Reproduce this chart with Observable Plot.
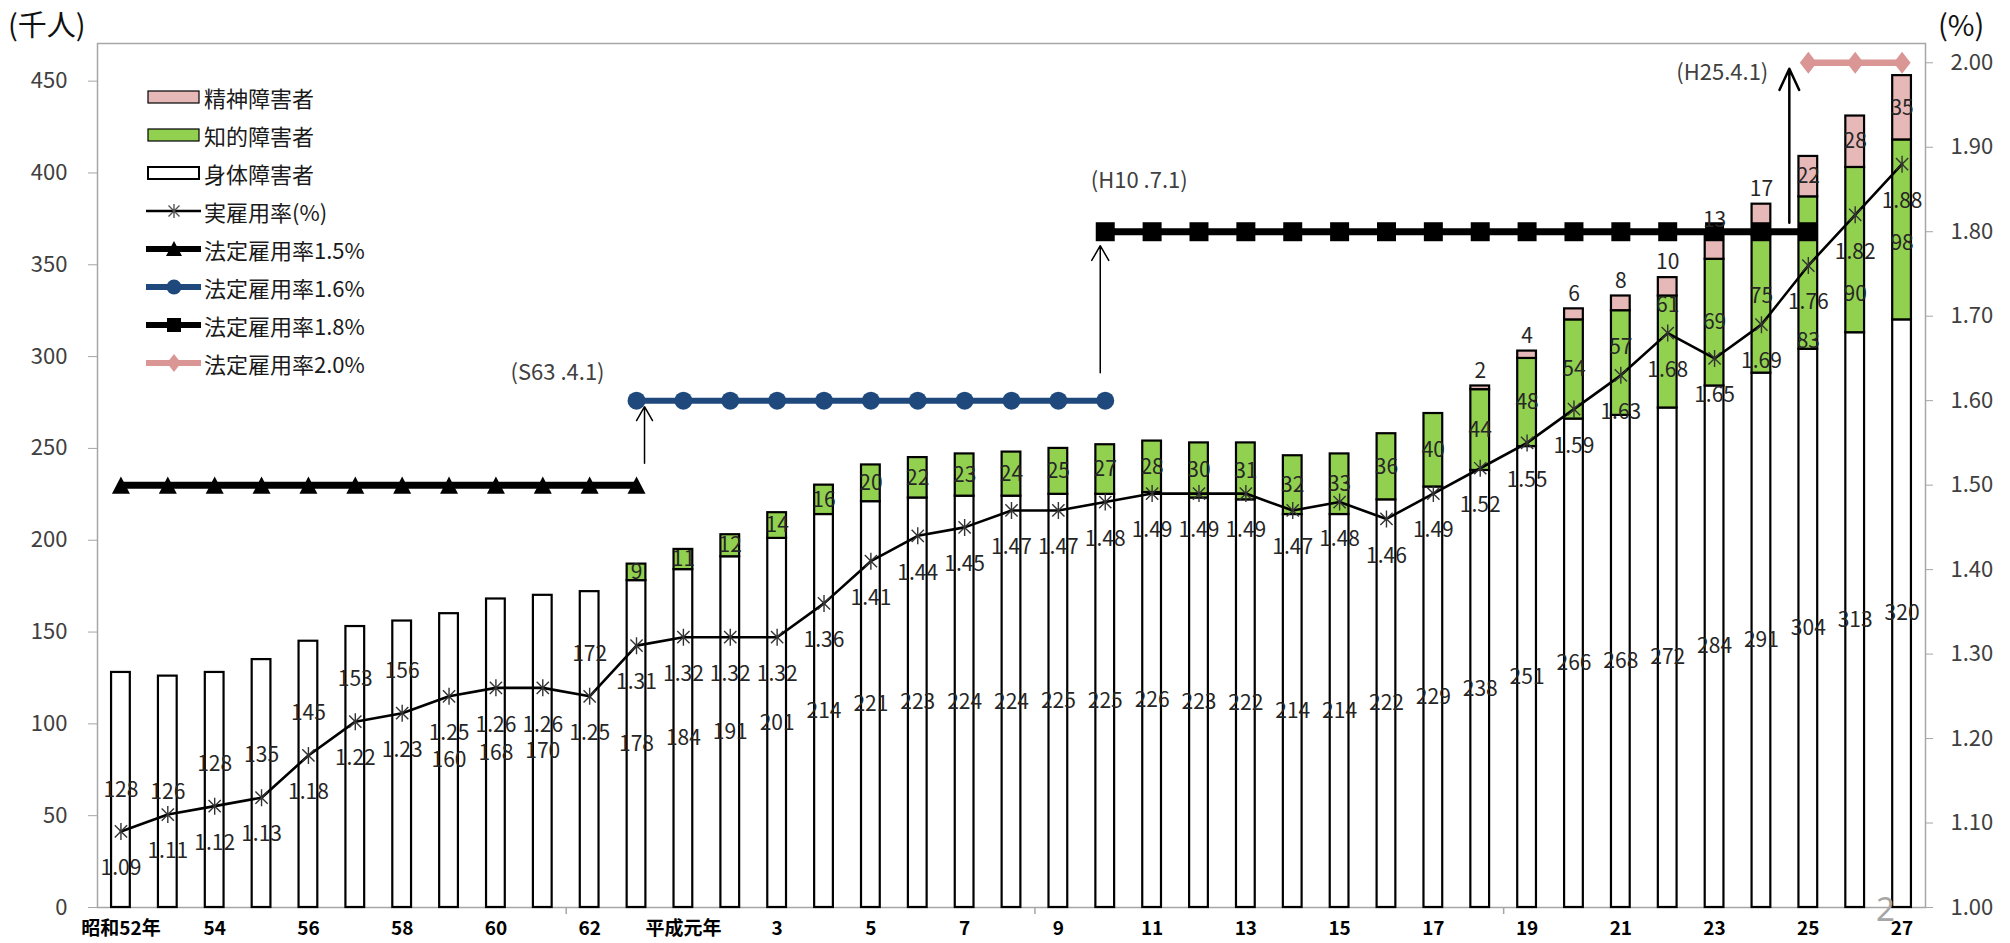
<!DOCTYPE html>
<html lang="ja">
<head>
<meta charset="utf-8">
<script src="https://cdn.jsdelivr.net/npm/d3@7"></script>
<script src="https://cdn.jsdelivr.net/npm/@observablehq/plot@0.6"></script>
<style>
html,body{margin:0;padding:0;background:#fff;}
#wrap{position:relative;width:2010px;height:943px;overflow:hidden;font-family:"Noto Sans CJK JP","Noto Sans",sans-serif;}
#wrap > svg{position:absolute;left:0;top:0;}
.unit{position:absolute;top:6px;font-size:29px;color:#111;line-height:1.2;}
#legend{position:absolute;left:144px;top:78px;}
.li{display:flex;align-items:center;height:38px;}
.li svg{display:block;}
.li span{font-size:22px;color:#1a1a1a;margin-left:2px;line-height:1;}
#page{position:absolute;left:1876px;top:892px;font-size:33px;color:#a6a6a6;font-family:"Noto Sans",sans-serif;line-height:1;}
</style>
</head>
<body>
<div id="wrap"></div>
<script>
// ---------------- data ----------------
const categories = ["昭和52年","53","54","55","56","57","58","59","60","61","62","63",
  "平成元年","2","3","4","5","6","7","8","9","10","11","12","13","14","15","16","17","18","19","20","21","22","23","24","25","26","27"];
const xTickLabels = categories.filter((d, i) => i % 2 === 0);

const physical = [128,126,128,135,145,153,156,160,168,170,172,178,184,191,201,214,221,223,224,224,225,225,226,223,222,214,214,222,229,238,251,266,268,272,284,291,304,313,320];
const intellectual = [null,null,null,null,null,null,null,null,null,null,null,
  9,11,12,14,16,20,22,23,24,25,27,28,30,31,32,33,36,40,44,48,54,57,61,69,75,83,90,98];
const mental = [null,null,null,null,null,null,null,null,null,null,null,null,null,null,null,
  null,null,null,null,null,null,null,null,null,null,null,null,null,null,
  2,4,6,8,10,13,17,22,28,35];
const actualRate = [1.09,1.11,1.12,1.13,1.18,1.22,1.23,1.25,1.26,1.26,1.25,1.31,1.32,1.32,1.32,1.36,1.41,1.44,1.45,1.47,1.47,1.48,1.49,1.49,1.49,1.47,1.48,1.46,1.49,1.52,1.55,1.59,1.63,1.68,1.65,1.69,1.76,1.82,1.88];

const legalRates = [1.5, 1.6, 1.8, 2.0];
const legalStart = ["昭和52年", "63", "10", "25"];
const legalEnd = ["63", "10", "25", "27"];
const legalNames = ["法定雇用率1.5%", "法定雇用率1.6%", "法定雇用率1.8%", "法定雇用率2.0%"];
const revisionLabels = ["(S63 .4.1)", "(H10 .7.1)", "(H25.4.1)"];

const kinds = ["身体障害者", "知的障害者", "精神障害者"];
const rateName = "実雇用率(%)";
const leftTicks = [0, 50, 100, 150, 200, 250, 300, 350, 400, 450];
const rightTicks = [1.0, 1.1, 1.2, 1.3, 1.4, 1.5, 1.6, 1.7, 1.8, 1.9, 2.0];

// right axis (%) mapped onto the left axis (千人): 1.00% -> 0, 2.00% -> 460
const RATE_BASE = 1.0, RATE_FACTOR = 460;
const toLeft = v => (v - RATE_BASE) * RATE_FACTOR;
const Y_MAX = 470.5;

// ---------------- layout constants ----------------
const W = 2010, H = 943, ML = 97, MR = 85, MT = 43, MB = 36;
const step = (W - ML - MR) / categories.length;
const pxPerUnit = (H - MT - MB) / Y_MAX;
const RATE_LABEL_DY = 37;           // rate label sits below its marker (px)

// ---------------- tables ----------------
const barRows = [];
const physLabels = [], intelLabels = [], mentalIn = [], mentalAbove = [];
categories.forEach((c, i) => {
  const p = physical[i], n = intellectual[i], m = mental[i];
  const mk = toLeft(actualRate[i]);                    // marker, in 千人 units
  const mkLabel = mk - RATE_LABEL_DY / pxPerUnit;      // rate label centre
  barRows.push({cat: c, kind: kinds[0], value: p});
  // body label: centred, moved above the rate marker if it would collide with it
  let yb = p / 2;
  const dPx = (mk - yb) * pxPerUnit;                   // >0: label below marker
  if (dPx > -22 && dPx < 58) yb = mk + 42 / pxPerUnit;
  physLabels.push({cat: c, y: yb, text: String(p)});
  if (n != null) {
    barRows.push({cat: c, kind: kinds[1], value: n});
    let yi = p + n / 2;
    const lp = (mk - yi) * pxPerUnit;
    if (n >= 40 && lp > -22 && lp < RATE_LABEL_DY + 30) {
      const below = mkLabel - 42 / pxPerUnit, above = mk + 28 / pxPerUnit;
      yi = (below >= p) ? Math.max(below, p + 8 / pxPerUnit) : above;
    }
    intelLabels.push({cat: c, y: yi, text: String(n)});
  }
  if (m != null) {
    barRows.push({cat: c, kind: kinds[2], value: m});
    const top = p + (n || 0) + m;
    if (m >= 20) mentalIn.push({cat: c, y: top - m / 2, text: String(m)});
    else mentalAbove.push({cat: c, y: top, text: String(m)});
  }
});
const rateRows = categories.map((c, i) => ({cat: c, rate: actualRate[i], y: toLeft(actualRate[i])}));
const legalSeries = legalRates.map((r, k) => {
  const a = categories.indexOf(legalStart[k]), b = categories.indexOf(legalEnd[k]);
  return categories.slice(a, b + 1).map(c => ({cat: c, y: toLeft(r)}));
});
const revisions = revisionLabels.map((t, k) => ({
  text: t, cat: legalStart[k + 1], from: toLeft(legalRates[k]), to: toLeft(legalRates[k + 1])
}));
const boundaryCats = [categories[10], categories[20], categories[30]];

// ---------------- symbols & styles ----------------
const starSym = {draw(ctx, size) {
  const r = Math.sqrt(size / Math.PI), d = r * 0.72;
  ctx.moveTo(0, -r); ctx.lineTo(0, r);
  ctx.moveTo(-d, -d); ctx.lineTo(d, d);
  ctx.moveTo(-d, d); ctx.lineTo(d, -d);
}};
const triSym = {draw(ctx, size) {
  const r = Math.sqrt(size / Math.PI);
  ctx.moveTo(0, -r * 0.95); ctx.lineTo(r, r * 0.95); ctx.lineTo(-r, r * 0.95); ctx.closePath();
}};
const sqSym = {draw(ctx, size) {
  const r = Math.sqrt(size / Math.PI);
  ctx.rect(-r, -r, 2 * r, 2 * r);
}};
const diaSym = {draw(ctx, size) {
  const r = Math.sqrt(size / Math.PI);
  ctx.moveTo(0, -r * 1.1); ctx.lineTo(r * 0.85, 0); ctx.lineTo(0, r * 1.1); ctx.lineTo(-r * 0.85, 0); ctx.closePath();
}};
const legalStyle = [
  {color: "#000000", width: 7, symbol: triSym, r: 9},
  {color: "#1F497D", width: 6, symbol: "circle", r: 9},
  {color: "#000000", width: 7, symbol: sqSym, r: 9.5},
  {color: "#D99694", width: 6.5, symbol: diaSym, r: 10}
];
const kindColors = ["#FFFFFF", "#92D050", "#E6B9B8"];
const labelFill = "#262626";
const FONT = "'Noto Sans CJK JP','Noto Sans',sans-serif";

const chart = Plot.plot({
  width: W, height: H,
  marginLeft: ML, marginRight: MR, marginTop: MT, marginBottom: MB,
  style: {fontFamily: FONT, background: "transparent", overflow: "visible"},
  x: {type: "band", domain: categories, paddingInner: 0.6, paddingOuter: 0.3, align: 0.5, axis: null},
  y: {domain: [0, Y_MAX], axis: null},
  color: {domain: kinds, range: kindColors},
  marks: [
    Plot.frame({stroke: "#a6a6a6", strokeWidth: 1.5}),
    Plot.axisY(leftTicks, {anchor: "left", tickSize: 9, tickPadding: 21, fontSize: 22, fill: "#404040", stroke: "#a6a6a6", label: null}),
    Plot.axisY(rightTicks.map(toLeft), {anchor: "right", tickSize: 7, tickPadding: 18, fontSize: 22, fill: "#404040", stroke: "#a6a6a6", label: null,
      tickFormat: d => (d / RATE_FACTOR + RATE_BASE).toFixed(2)}),
    Plot.axisX(xTickLabels, {anchor: "bottom", tickSize: 0, tickPadding: 14, fontSize: 19, fontWeight: "bold", fill: "#000", label: null}),
    Plot.ruleX(boundaryCats, {x: d => d, y1: 0, y2: -7 / pxPerUnit, dx: -step / 2, stroke: "#a6a6a6", strokeWidth: 1.5}),
    Plot.barY(barRows, {x: "cat", y: "value", fill: "kind", stroke: "#000", strokeWidth: 2.2}),
    ...legalSeries.flatMap((rows, k) => [
      Plot.line(rows, {x: "cat", y: "y", stroke: legalStyle[k].color, strokeWidth: legalStyle[k].width}),
      Plot.dot(rows, {x: "cat", y: "y", symbol: legalStyle[k].symbol, r: legalStyle[k].r, fill: legalStyle[k].color, stroke: "none"})
    ]),
    Plot.line(rateRows, {x: "cat", y: "y", stroke: "#000", strokeWidth: 2.6}),
    Plot.dot(rateRows, {x: "cat", y: "y", symbol: starSym, r: 8.5, stroke: "#333", strokeWidth: 1.4, fill: "none"}),
    // revision arrows
    Plot.arrow([revisions[0]], {x1: "cat", x2: "cat", y1: "from", y2: "to", insetStart: 22, insetEnd: 6, dx: 8,
      stroke: "#000", strokeWidth: 1.5, headLength: 16, headAngle: 60}),
    Plot.arrow([revisions[1]], {x1: "cat", x2: "cat", y1: "from", y2: "to", insetStart: 28, insetEnd: 14, dx: -5,
      stroke: "#000", strokeWidth: 1.5, headLength: 17, headAngle: 60}),
    Plot.arrow([revisions[2]], {x1: "cat", x2: "cat", y1: "from", y2: "to", insetStart: 9, insetEnd: 6, dx: -19,
      stroke: "#000", strokeWidth: 2.5, headLength: 14, headAngle: 50}),
    Plot.text([revisions[0]], {x: "cat", y: "to", text: "text", dx: -79, dy: -28, fontSize: 22, fill: "#404040"}),
    Plot.text([revisions[1]], {x: "cat", y: "to", text: "text", dx: 34, dy: -51, fontSize: 22, fill: "#404040"}),
    Plot.text([revisions[2]], {x: "cat", y: "to", text: "text", dx: -86, dy: 10, fontSize: 22, fill: "#404040"}),
    // data labels
    Plot.text(physLabels, {x: "cat", y: "y", text: "text", fontSize: 21, fill: labelFill}),
    Plot.text(intelLabels, {x: "cat", y: "y", text: "text", fontSize: 21, fill: labelFill}),
    Plot.text(mentalIn, {x: "cat", y: "y", text: "text", fontSize: 21, fill: labelFill}),
    Plot.text(mentalAbove, {x: "cat", y: "y", text: "text", dy: -15, fontSize: 21, fill: labelFill}),
    Plot.text(rateRows, {x: "cat", y: "y", text: d => d.rate.toFixed(2), dy: RATE_LABEL_DY, fontSize: 21, fill: labelFill})
  ]
});

const wrap = document.getElementById("wrap");
wrap.appendChild(chart);

// units
const u1 = document.createElement("div"); u1.className = "unit"; u1.style.left = "8px"; u1.textContent = "(千人)"; wrap.appendChild(u1);
const u2 = document.createElement("div"); u2.className = "unit"; u2.style.left = "1938px"; u2.textContent = "(%)"; wrap.appendChild(u2);

// legend
function rectIcon(fill, sw) {
  return `<svg width="58" height="24"><rect x="4" y="6" width="51" height="12" fill="${fill}" stroke="#000" stroke-width="${sw}"/></svg>`;
}
function lineIcon(color, w, marker) {
  return `<svg width="58" height="24"><line x1="2" y1="12" x2="57" y2="12" stroke="${color}" stroke-width="${w}"/>${marker}</svg>`;
}
const legendItems = [
  {label: kinds[2], icon: rectIcon(kindColors[2], 1.2)},
  {label: kinds[1], icon: rectIcon(kindColors[1], 1.2)},
  {label: kinds[0], icon: rectIcon(kindColors[0], 2)},
  {label: rateName, icon: lineIcon("#000", 2.6, `<path d="M30,5V19M24.5,6.5L35.5,17.5M24.5,17.5L35.5,6.5" stroke="#555" stroke-width="1.4"/>`)},
  {label: legalNames[0], icon: lineIcon(legalStyle[0].color, 6, `<path d="M30,4L38,19H22Z" fill="#000"/>`)},
  {label: legalNames[1], icon: lineIcon(legalStyle[1].color, 6, `<circle cx="30" cy="12" r="7.5" fill="${legalStyle[1].color}"/>`)},
  {label: legalNames[2], icon: lineIcon(legalStyle[2].color, 6, `<rect x="23" y="5" width="14" height="14" fill="#000"/>`)},
  {label: legalNames[3], icon: lineIcon(legalStyle[3].color, 6, `<path d="M30,3L37,12L30,21L23,12Z" fill="${legalStyle[3].color}"/>`)}
];
const legend = document.createElement("div"); legend.id = "legend";
legend.innerHTML = legendItems.map(d => `<div class="li">${d.icon}<span>${d.label}</span></div>`).join("");
wrap.appendChild(legend);

const page = document.createElement("div"); page.id = "page"; page.textContent = "2"; wrap.appendChild(page);
</script>
</body>
</html>
